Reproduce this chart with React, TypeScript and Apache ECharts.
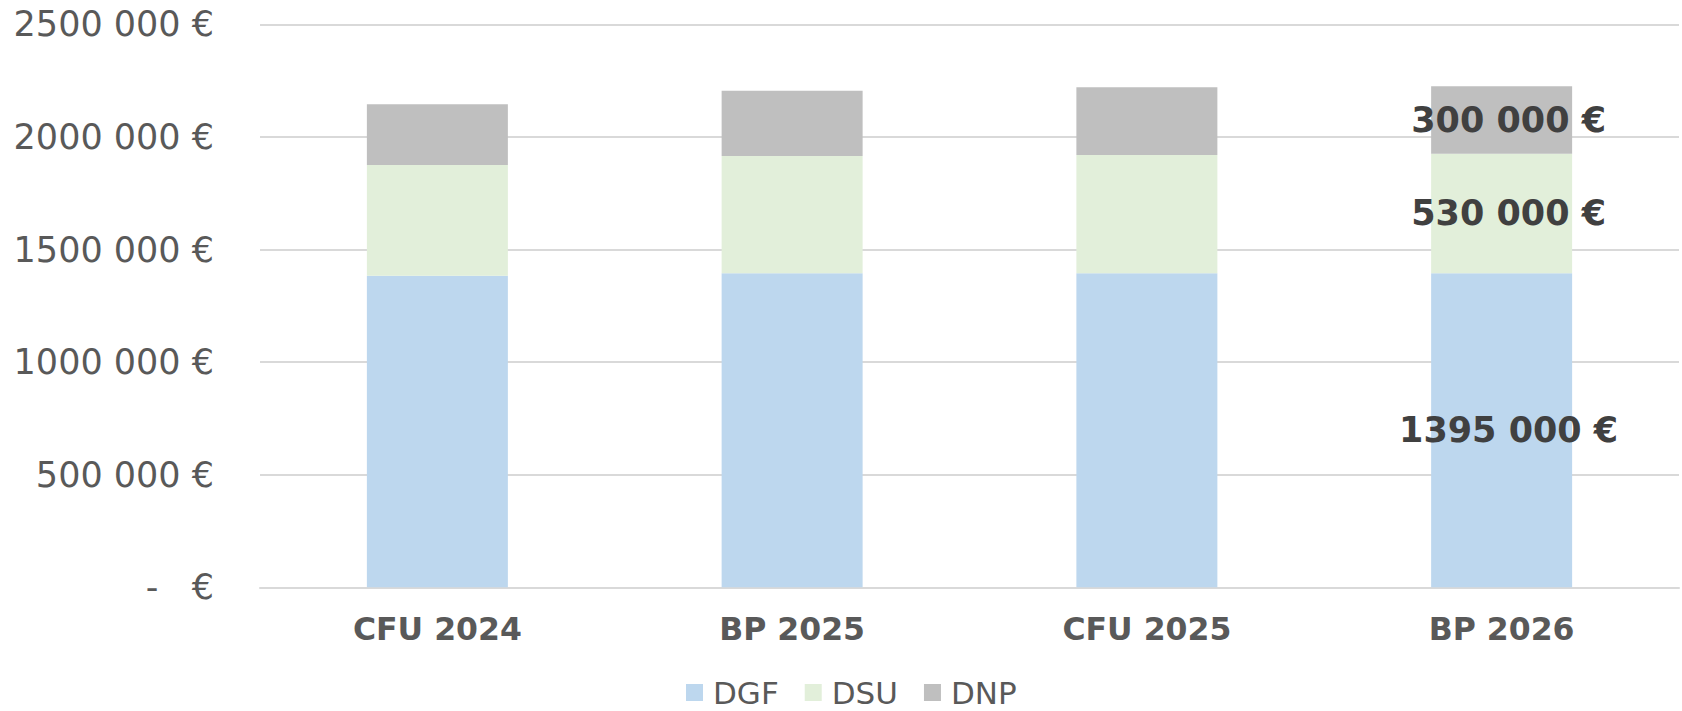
import React, { useEffect, useRef } from 'react';
import * as echarts from 'echarts';

const categories = ['CFU 2024', 'BP 2025', 'CFU 2025', 'BP 2026'];
const seriesNames = ['DGF', 'DSU', 'DNP'];
const dgfValues = [1383000, 1395000, 1395000, 1395000];
const dsuValues = [492000, 520000, 525000, 530000];
const dnpValues = [270000, 290000, 300000, 300000];
const seriesColors = ['#BDD7EE', '#E2EFDA', '#BFBFBF'];
const yMin = 0;
const yMax = 2500000;
const yInterval = 500000;
const labelledCategory = 'BP 2026';

const FONT = 'DejaVu Sans';

function euro(v: number): string {
  if (v === 0) return '-\u00a0\u00a0\u00a0€';
  const th = Math.floor(v / 1000);
  const rest = String(v % 1000).padStart(3, '0');
  return `${th} ${rest} €`;
}

export default function App() {
  const ref = useRef<HTMLDivElement>(null);

  useEffect(() => {
    if (!ref.current) return;
    const chart = echarts.init(ref.current, undefined, { renderer: 'svg' });
    const labelIdx = categories.indexOf(labelledCategory);
    const allValues = [dgfValues, dsuValues, dnpValues];

    const series = seriesNames.map((name, si) => ({
      name,
      type: 'bar',
      stack: 'total',
      barWidth: 141,
      itemStyle: { color: seriesColors[si] },
      data: allValues[si].map((v, i) =>
        i === labelIdx
          ? {
              value: v,
              label: {
                show: true,
                position: 'inside',
                offset: [7, 0],
                formatter: (p: any) => euro(p.value),
                fontFamily: FONT,
                fontSize: 35,
                fontWeight: 'bold',
                color: '#404040',
              },
            }
          : v
      ),
    }));

    chart.setOption({
      animation: false,
      backgroundColor: '#ffffff',
      grid: { left: 260, right: 3, top: 24.3, bottom: 123.7, containLabel: false },
      legend: {
        data: seriesNames,
        left: 681,
        top: 672,
        icon: 'rect',
        itemWidth: 17,
        itemHeight: 17,
        itemGap: 26,
        textStyle: {
          fontFamily: FONT,
          fontSize: 31,
          color: '#595959',
          lineHeight: 31,
          padding: [0, 0, 0, 5],
        },
      },
      xAxis: {
        type: 'category',
        data: categories,
        axisTick: { show: false },
        axisLine: { show: true, lineStyle: { color: '#d9d9d9', width: 2 } },
        axisLabel: {
          fontFamily: FONT,
          fontSize: 31.5,
          fontWeight: 'bold',
          color: '#595959',
          margin: 26,
        },
      },
      yAxis: {
        type: 'value',
        min: yMin,
        max: yMax,
        interval: yInterval,
        axisLine: { show: false },
        axisTick: { show: false },
        splitLine: { lineStyle: { color: '#d9d9d9', width: 2 } },
        axisLabel: {
          fontFamily: FONT,
          fontSize: 35,
          color: '#595959',
          margin: 46,
          formatter: (v: number) => euro(v),
        },
      },
      series,
    });

    return () => chart.dispose();
  }, []);

  return (
    <div
      ref={ref}
      style={{ position: 'fixed', left: 0, top: 0, width: 1682, height: 711, background: '#fff' }}
    />
  );
}
